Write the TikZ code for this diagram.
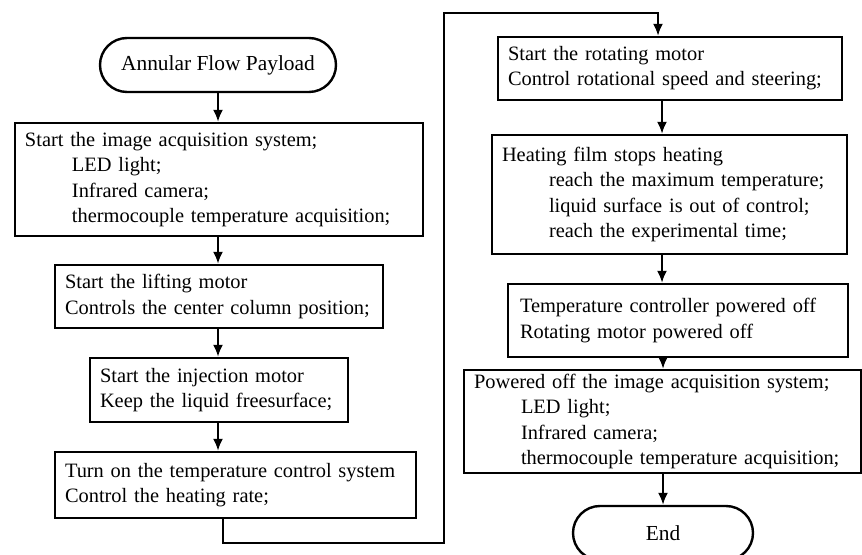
\documentclass[tikz,border=0pt]{standalone}
\usepackage{fontspec}
\setmainfont{Liberation Serif}
\usetikzlibrary{arrows.meta}
\hyphenpenalty=10000
\begin{document}
\begin{tikzpicture}[
        x=0.5pt, y=-0.5pt,
        font=\fontsize{10.2}{12.6}\selectfont,
        stepbox/.style={rectangle, draw, line width=1.2pt, align=left, inner xsep=5pt, inner ysep=0pt},
        terminal/.style={rectangle, draw, line width=1.2pt, rounded corners=13.5pt, minimum height=27pt, font=\fontsize{10.7}{12.6}\selectfont},
        flow/.style={-{Latex[length=6pt, width=5pt]}, line width=1pt},
    ]
        \useasboundingbox (0,0) rectangle (862,555);

        % left column
        \node[terminal, minimum width=118pt] (start) at (218, 65) {Annular Flow Payload};
        \node[stepbox, text width=194pt, minimum height=56.5pt] (acq) at (219, 179.5)
            {Start the image acquisition system;\\
             \hspace*{23.5pt}LED light;\\
             \hspace*{23.5pt}Infrared camera;\\
             \hspace*{23.5pt}thermocouple temperature acquisition;};
        \node[stepbox, text width=154pt, minimum height=31.5pt] (lift) at (219, 296.5)
            {Start the lifting motor\\Controls the center column position;};
        \node[stepbox, text width=119pt, minimum height=32pt] (inject) at (219, 390)
            {Start the injection motor\\Keep the liquid freesurface;};
        \node[stepbox, text width=170.5pt, minimum height=33pt] (tempctrl) at (235.5, 485)
            {Turn on the temperature control system\\Control the heating rate;};

        % right column
        \node[stepbox, text width=162pt, minimum height=31.5pt] (rotate) at (670, 68.5)
            {Start the rotating motor\\Control rotational speed and steering;};
        \node[stepbox, text width=167.5pt, minimum height=59.5pt] (stopheat) at (669.5, 194.5)
            {Heating film stops heating\\
             \hspace*{23.5pt}reach the maximum temperature;\\
             \hspace*{23.5pt}liquid surface is out of control;\\
             \hspace*{23.5pt}reach the experimental time;};
        \node[stepbox, inner xsep=6pt, text width=158pt, minimum height=36.5pt] (poweroff) at (678, 320.5)
            {Temperature controller powered off\\Rotating motor powered off};
        \node[stepbox, text width=188.5pt, minimum height=51.5pt] (acqoff) at (662.5, 421.5)
            {Powered off the image acquisition system;\\
             \hspace*{23.5pt}LED light;\\
             \hspace*{23.5pt}Infrared camera;\\
             \hspace*{23.5pt}thermocouple temperature acquisition;};
        \node[terminal, minimum width=90pt] (finish) at (663, 533) {End};

        \coordinate (low) at (444, 543);
        \coordinate (high) at (444, 13);

        \draw[flow] (start.south) -- (start.south |- acq.north);
        \draw[flow] (acq.south -| start.south) -- (start.south |- lift.north);
        \draw[flow] (lift.south -| start.south) -- (start.south |- inject.north);
        \draw[flow] (inject.south -| start.south) -- (start.south |- tempctrl.north);
        \draw[flow] ([xshift=-6.25pt]tempctrl.south) |- (low) -- (high) -| ([xshift=-6pt]rotate.north);
        \draw[flow] ([xshift=-4pt]rotate.south) -- ([xshift=-4pt]rotate.south |- stopheat.north);
        \draw[flow] ([xshift=-3.75pt]stopheat.south) -- ([xshift=-3.75pt]stopheat.south |- poweroff.north);
        \draw[flow] (finish.north |- poweroff.south) -- (finish.north |- acqoff.north);
        \draw[flow] (acqoff.south -| finish.north) -- (finish.north);
    \end{tikzpicture}
\end{document}
